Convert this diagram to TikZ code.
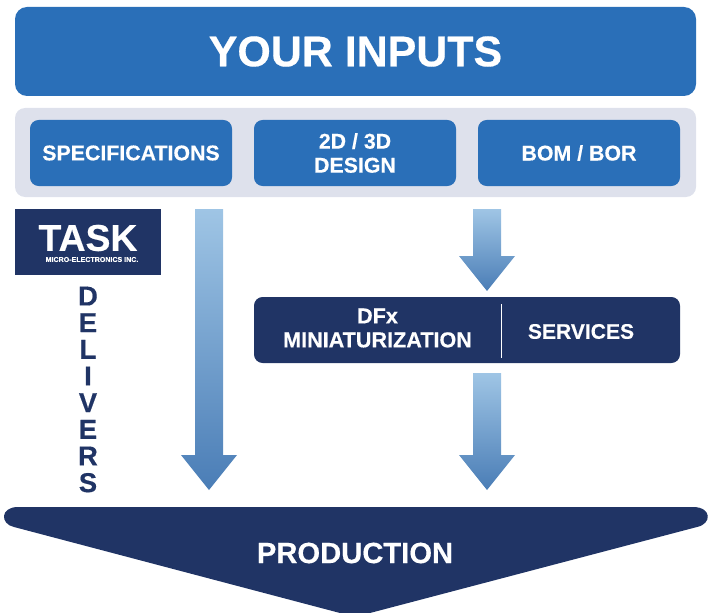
\documentclass[tikz,border=0pt]{standalone}
\usepackage{fontspec}
\setmainfont{Liberation Sans}[BoldFont={Liberation Sans Bold},BoldFeatures={FakeBold=0.4}]
\definecolor{topblue}{HTML}{2A6FB8}
\definecolor{navy}{HTML}{203465}
\definecolor{panel}{HTML}{DEE1EC}
\definecolor{arrowtop}{HTML}{9FC5E5}
\definecolor{arrowbot}{HTML}{4A7DB6}
\newcommand{\fsz}[2]{\fontsize{#1}{#2}\selectfont\bfseries}
\tikzset{
  bluebox/.style={fill=topblue,rounded corners=6.5pt,text=white,align=center,inner sep=0pt,minimum width=151.5pt,minimum height=49.5pt,font=\fsz{16}{18}},
  blockarrow/.style={top color=arrowtop,bottom color=arrowbot,draw=none},
  lbl/.style={text=white,align=center,inner sep=0pt}
}
\begin{document}
\begin{tikzpicture}[x=0.75pt,y=-0.75pt]
\useasboundingbox (0,0) rectangle (717,613);
\clip (0,0) rectangle (717,613);
% top banner
\node[fill=topblue,rounded corners=9pt,text=white,inner sep=0pt,minimum width=510.75pt,minimum height=66.75pt,font=\fsz{32.2}{36}] (inputs) at (355.5,51.5) {YOUR INPUTS};
% grey panel
\node[fill=panel,rounded corners=7.5pt,inner sep=0pt,minimum width=510.75pt,minimum height=66.75pt] (panel) at (355.5,152.5) {};
\node[bluebox] (spec) at (131,153) {SPECIFICATIONS};
\node[bluebox] (design) at (355,153) {2D / 3D\\DESIGN};
\node[bluebox] (bom) at (579,153) {BOM / BOR};
% logo
\node[fill=navy,inner sep=0pt,minimum width=109.5pt,minimum height=49.5pt] (logo) at (88,242) {};
\node[lbl,font=\fsz{28}{30}] (task) at (88,238) {TASK};
\node[lbl,font=\fsz{5.3}{6}] (micro) at (92,259.5) {MICRO-ELECTRONICS INC.};
% delivers
\node[text=navy,align=center,inner sep=0pt,font=\fsz{20.5}{20}] (delivers) at (88,389.5) {D\\E\\L\\I\\V\\E\\R\\S};
% block arrows
\path[blockarrow] (195,209) -- (223,209) -- (223,455) -- (237,455) -- (209,490) -- (181,455) -- (195,455) -- cycle;
\path[blockarrow] (473,209) -- (501,209) -- (501,256) -- (515,256) -- (487,291) -- (459,256) -- (473,256) -- cycle;
\path[blockarrow] (473,373) -- (501,373) -- (501,455) -- (515,455) -- (487,490) -- (459,455) -- (473,455) -- cycle;
% DFx box
\node[fill=navy,rounded corners=6.5pt,inner sep=0pt,minimum width=319.5pt,minimum height=49.5pt] (dfx) at (467,330) {};
\node[lbl,font=\fsz{16.2}{18}] (mini) at (377.5,328) {DFx\\MINIATURIZATION};
\node[lbl,font=\fsz{15.8}{18}] (serv) at (581,331.5) {SERVICES};
\coordinate (divtop) at (501.5,304);
\coordinate (divbot) at (501.5,358);
\draw[white,line width=1.2pt] (divtop) -- (divbot);
% production
\fill[navy] (18,507) -- (693,507) .. controls (712,507) and (712,524) .. (697,527) -- (370,613) .. controls (362,615) and (350,615) .. (340,613) -- (14,527) .. controls (0,524) and (0,507) .. (18,507) -- cycle;
\node[lbl,font=\fsz{21.9}{24}] (prod) at (355,553) {PRODUCTION};
\end{tikzpicture}
\end{document}
